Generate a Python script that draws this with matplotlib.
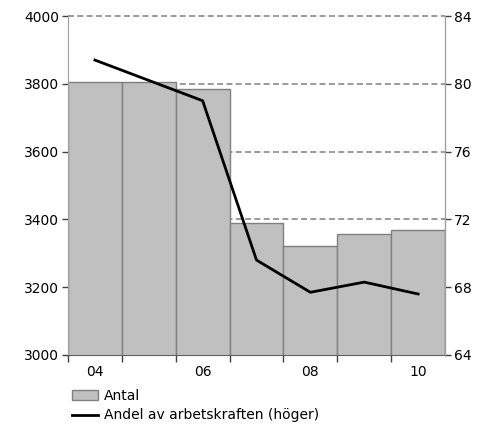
import matplotlib
matplotlib.use("Agg")
import matplotlib.pyplot as plt
from matplotlib.patches import Patch
from matplotlib.lines import Line2D
import numpy as np

years = [2004, 2005, 2006, 2007, 2008, 2009, 2010]
antal = [3805, 3806, 3784, 3388, 3322, 3358, 3368]
andel = [81.4, 80.2, 79.0, 69.6, 67.7, 68.3, 67.6]
xlabels = ["04", "06", "08", "10"]
xlabel_years = [2004, 2006, 2008, 2010]

plt.rcParams['font.family'] = ['DejaVu Sans']
plt.rcParams['font.size'] = 10

fig = plt.figure(figsize=(4.89, 4.25), dpi=100)
ax = fig.add_axes([68/489, 1-355/425, (445-68)/489, (355-16)/425])

ax.bar(years, antal, width=1.0, color="#c0c0c0", edgecolor="#808080", linewidth=1.0, zorder=2)
ax.set_xlim(2003.5, 2010.5)
ax.set_ylim(3000, 4000)
ax.set_yticks(np.arange(3000, 4001, 200))
ax.yaxis.grid(True, color="#808080", linestyle=(0, (3.9, 2.2)), linewidth=1.1, zorder=0)
for gl in ax.get_ygridlines():
    gl.set_clip_on(False)
ax.set_axisbelow(True)

ax.set_xticks(xlabel_years)
ax.set_xticklabels(xlabels)
ax.tick_params(axis='x', which='major', length=0, pad=7)
ax.set_xticks(np.arange(2003.5, 2010.0, 1.0), minor=True)
ax.tick_params(axis='x', which='minor', length=5, color="#404040", width=1)
ax.tick_params(axis='y', length=4.5, color="#404040", width=1, pad=2)

ax.spines["top"].set_visible(False)
ax.spines["left"].set_color("#a0a0a0")
ax.spines["bottom"].set_color("#606060")

ax2 = ax.twinx()
ax2.plot(years, andel, color="black", linewidth=2.0, zorder=3)
ax2.set_ylim(64, 84)
ax2.set_yticks(np.arange(64, 85, 4))
ax2.tick_params(axis='y', length=4.5, color="#404040", width=1, pad=2)
ax2.spines["top"].set_visible(False)
ax2.spines["left"].set_visible(False)
ax2.spines["bottom"].set_visible(False)
ax2.spines["right"].set_color("#a0a0a0")

handles = [Patch(facecolor="#c0c0c0", edgecolor="#808080", linewidth=1.0),
           Line2D([0], [0], color="black", linewidth=2.0)]
fig.legend(handles, ["Antal", "Andel av arbetskraften (höger)"],
           loc="upper left", bbox_to_anchor=(72/489, 1-389/425), frameon=False,
           handlelength=1.9, handleheight=0.65, handletextpad=0.4, labelspacing=0.38,
           borderaxespad=0, borderpad=0, fontsize=10)

fig.savefig("out.png", dpi=100)
